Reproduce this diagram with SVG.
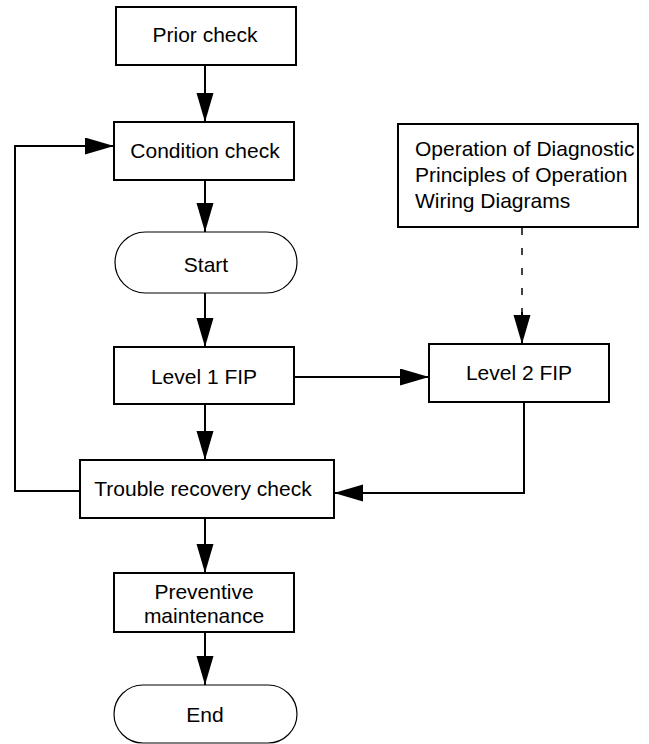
<svg xmlns="http://www.w3.org/2000/svg" width="649" height="744" viewBox="0 0 649 744">
<style>
.box{fill:#fff;stroke:#000;stroke-width:2}
.term{fill:#fff;stroke:#000;stroke-width:1.2}
.t{font-family:"Liberation Sans",Arial,sans-serif;font-size:21px;fill:#000;text-anchor:middle}
.tl{font-family:"Liberation Sans",Arial,sans-serif;font-size:21px;fill:#000}
.c{fill:none;stroke:#000;stroke-width:2}
.d{fill:none;stroke:#000;stroke-width:1.5;stroke-dasharray:7 13}
</style>
<defs>
<marker id="ah" markerUnits="userSpaceOnUse" markerWidth="30" markerHeight="18" refX="29" refY="8.5" orient="auto">
<path d="M0,0 L29,8.5 L0,17 z" fill="#000"/>
</marker>
</defs>
<g id="connectors">
<line class="c" x1="205" y1="65" x2="205" y2="122" marker-end="url(#ah)"/>
<line class="c" x1="205" y1="180" x2="205" y2="232" marker-end="url(#ah)"/>
<line class="c" x1="205" y1="293" x2="205" y2="347" marker-end="url(#ah)"/>
<line class="c" x1="294" y1="377" x2="429" y2="377" marker-end="url(#ah)"/>
<line class="c" x1="205" y1="404" x2="205" y2="460" marker-end="url(#ah)"/>
<polyline class="c" points="80,491 15,491 15,146 114,146" marker-end="url(#ah)"/>
<polyline class="c" points="524,402 524,493 334,493" marker-end="url(#ah)"/>
<line class="d" x1="522" y1="228" x2="522" y2="316"/>
<line class="c" x1="522" y1="312" x2="522" y2="344" stroke-width="0" marker-end="url(#ah)"/>
<line class="c" x1="205" y1="518" x2="205" y2="573" marker-end="url(#ah)"/>
<line class="c" x1="205" y1="632" x2="205" y2="685" marker-end="url(#ah)"/>
</g>
<g id="prior-check">
<rect class="box" x="116" y="7" width="180" height="58"/>
<text class="t" x="205" y="42">Prior check</text>
</g>
<g id="condition-check">
<rect class="box" x="114" y="122" width="180" height="58"/>
<text class="t" x="205" y="158">Condition check</text>
</g>
<g id="start">
<rect class="term" x="115" y="232" width="182" height="61" rx="30.5" ry="30.5"/>
<text class="t" x="206" y="272">Start</text>
</g>
<g id="level1">
<rect class="box" x="114" y="347" width="180" height="57"/>
<text class="t" x="204" y="384">Level 1 FIP</text>
</g>
<g id="diagnostic">
<rect class="box" x="398" y="124" width="240" height="103"/>
<text class="tl" x="415" y="156">Operation of Diagnostic</text>
<text class="tl" x="415" y="182">Principles of Operation</text>
<text class="tl" x="415" y="208">Wiring Diagrams</text>
</g>
<g id="level2">
<rect class="box" x="429" y="344" width="180" height="58"/>
<text class="t" x="519" y="380">Level 2 FIP</text>
</g>
<g id="trouble-recovery">
<rect class="box" x="80" y="460" width="254" height="58"/>
<text class="t" x="203" y="496">Trouble recovery check</text>
</g>
<g id="preventive">
<rect class="box" x="114" y="573" width="180" height="59"/>
<text class="t" x="204" y="599">Preventive</text>
<text class="t" x="204" y="623">maintenance</text>
</g>
<g id="end">
<rect class="term" x="114" y="685" width="183" height="58" rx="29" ry="29"/>
<text class="t" x="205" y="722">End</text>
</g>
</svg>
